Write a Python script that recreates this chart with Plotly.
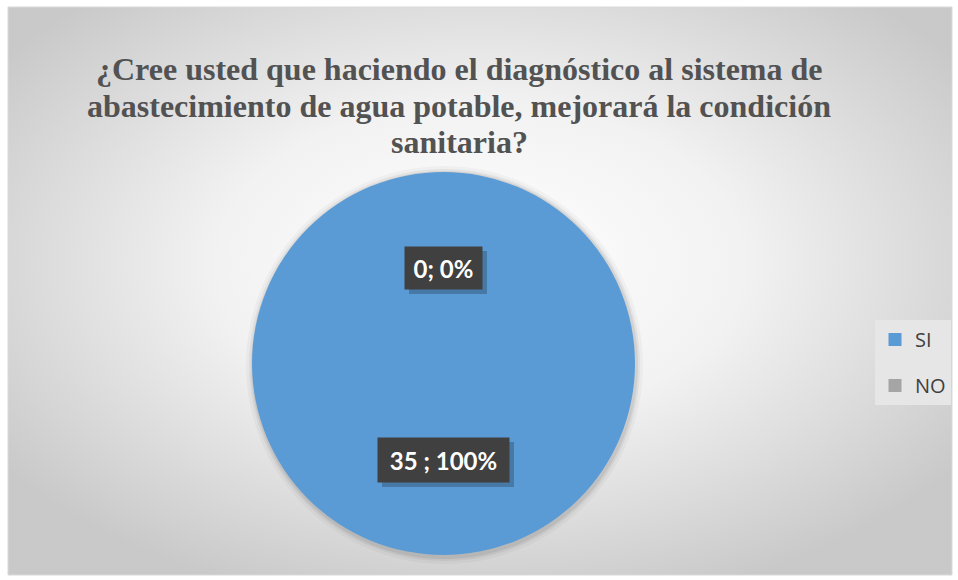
import base64
import plotly.graph_objects as go

# ---- data ----
categories = ["SI", "NO"]
counts = [35, 0]
colors = ["#5B9BD5", "#A5A5A5"]
title_lines = [
    "¿Cree usted que haciendo el diagnóstico al sistema de",
    "abastecimiento de agua potable, mejorará la condición",
    "sanitaria?",
]

W, H = 958, 580
total = sum(counts)

# chart area (pixels)
ax0, ay0, ax1, ay1 = 8, 7, 952, 575

def px(x):
    return x / W

def py(y):
    return 1 - y / H

# pie geometry (pixels)
cx, cy, r = 443.5, 363.5, 191.5

svg = f'''<svg xmlns="http://www.w3.org/2000/svg" width="{ax1-ax0}" height="{ay1-ay0}">
<defs><radialGradient id="g" cx="50%" cy="45%" r="62%">
<stop offset="0%" stop-color="#ffffff"/>
<stop offset="45%" stop-color="#f2f2f2"/>
<stop offset="100%" stop-color="#c9c9c9"/>
</radialGradient></defs>
<rect width="100%" height="100%" fill="url(#g)"/></svg>'''
svg_uri = "data:image/svg+xml;base64," + base64.b64encode(svg.encode()).decode()

fig = go.Figure()

fig.add_trace(go.Pie(
    labels=categories,
    values=counts,
    marker=dict(colors=colors, line=dict(width=0)),
    textinfo="none",
    hoverinfo="label+value+percent",
    sort=False,
    direction="clockwise",
    rotation=0,
    showlegend=False,
    domain=dict(x=[px(cx - r), px(cx + r)], y=[py(cy + r), py(cy - r)]),
))

# legend entries
for i, (cat, col) in enumerate(zip(categories, colors)):
    fig.add_trace(go.Scatter(
        x=[None], y=[None], mode="markers", name=cat,
        marker=dict(symbol="square", size=13, color=col),
        legendgroup=cat, showlegend=True,
    ))

shapes = []
# pie shadow halo
for d, a in [(7, 0.03), (4, 0.05), (2, 0.07)]:
    shapes.append(dict(type="circle", xref="paper", yref="paper", layer="below",
                       x0=px(cx - r - d + 1), x1=px(cx + r + d + 1),
                       y0=py(cy + r + d + 2), y1=py(cy - r - d + 1),
                       fillcolor=f"rgba(0,0,0,{a})", line=dict(width=0)))
# chart border
shapes.append(dict(type="rect", xref="paper", yref="paper", layer="above",
                   x0=px(ax0), x1=px(ax1), y0=py(ay1), y1=py(ay0),
                   line=dict(color="#d9d9d9", width=1), fillcolor="rgba(0,0,0,0)"))

# data label boxes
pct = [c / total * 100 for c in counts]
texts = [f"{counts[0]} ; {pct[0]:.0f}%", f"{counts[1]}; {pct[1]:.0f}%"]
boxes = [  # (center x, center y, w, h)
    (443.5, 460, 131, 44),
    (443.5, 268, 77, 42),
]
annotations = []
for t, (bx, by, bw, bh) in zip(texts, boxes):
    shapes.append(dict(type="rect", xref="paper", yref="paper", layer="above",
                       x0=px(bx - bw / 2 + 4), x1=px(bx + bw / 2 + 5),
                       y0=py(by + bh / 2 + 5), y1=py(by - bh / 2 + 4),
                       fillcolor="rgba(0,0,0,0.22)", line=dict(width=0)))
    annotations.append(dict(
        x=px(bx), y=py(by), xref="paper", yref="paper", xanchor="center", yanchor="middle",
        text=f"<b>{t}</b>", showarrow=False, width=bw, height=bh, borderpad=0,
        bgcolor="#404040", font=dict(family="Lato", size=24, color="#ffffff"),
    ))

# title, one annotation per line
for line, ly in zip(title_lines, [69, 106, 142]):
    annotations.append(dict(
        x=px(459), y=py(ly), xref="paper", yref="paper", xanchor="center", yanchor="middle",
        text=f"<b>{line}</b>", showarrow=False, align="center",
        font=dict(family="Liberation Serif, Times New Roman, serif", size=32, color="#525252"),
    ))

fig.update_layout(
    width=W, height=H,
    margin=dict(l=0, r=0, t=0, b=0),
    paper_bgcolor="#ffffff",
    plot_bgcolor="rgba(0,0,0,0)",
    xaxis=dict(visible=False), yaxis=dict(visible=False),
    images=[dict(source=svg_uri, xref="paper", yref="paper", x=px(ax0), y=py(ay0),
                 sizex=px(ax1) - px(ax0), sizey=py(ay0) - py(ay1), sizing="stretch",
                 xanchor="left", yanchor="top", layer="below")],
    shapes=shapes,
    annotations=annotations,
    legend=dict(x=px(875), y=py(320), xanchor="left", yanchor="top",
                bgcolor="#e6e6e6", borderwidth=0, tracegroupgap=17,
                font=dict(family="Open Sans", size=20, color="#404040"),
                itemclick=False, itemdoubleclick=False),
    showlegend=True,
)

fig.write_html("out.html")
